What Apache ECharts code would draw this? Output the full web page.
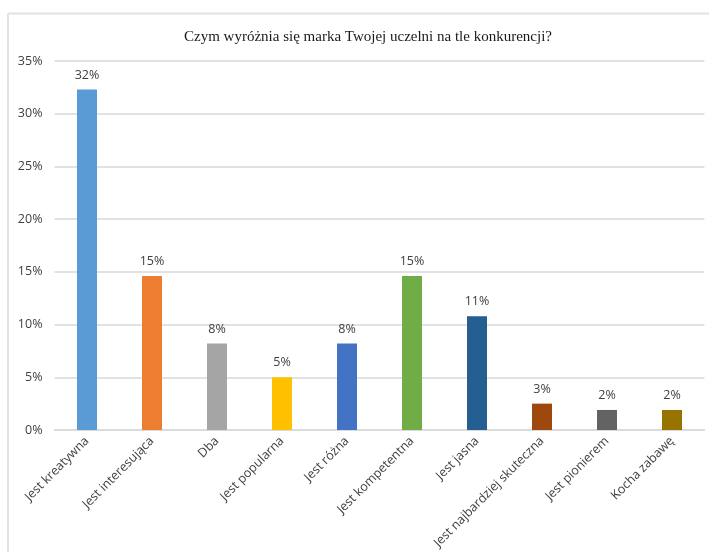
<!DOCTYPE html>
<html>
<head>
<meta charset="utf-8">
<script src="https://cdn.jsdelivr.net/npm/echarts@6/dist/echarts.min.js"></script>
<style>
  html, body { margin: 0; padding: 0; background: #ffffff; }
  #chart { width: 709px; height: 552px; }
</style>
</head>
<body>
<div id="chart"></div>
<script>
// Answers to the survey question, share of respondents in percent
const categories = [
  'Jest kreatywna', 'Jest interesująca', 'Dba', 'Jest popularna', 'Jest różna',
  'Jest kompetentna', 'Jest jasna', 'Jest najbardziej skuteczna', 'Jest pionierem', 'Kocha zabawę'
];
const shares = [32.3, 14.6, 8.2, 5.0, 8.2, 14.6, 10.8, 2.5, 1.9, 1.9];
const barColors = [
  '#5B9BD5', '#ED7D31', '#A5A5A5', '#FFC000', '#4472C4',
  '#70AD47', '#255E91', '#9E480E', '#636363', '#997300'
];
const titleText = 'Czym wyróżnia się marka Twojej uczelni na tle konkurencji?';

const chart = echarts.init(document.getElementById('chart'), null, { renderer: 'canvas' });
const labelFont = '"Open Sans", "Liberation Sans", sans-serif';

chart.setOption({
  animation: false,
  backgroundColor: '#ffffff',
  title: {
    text: titleText,
    left: 363,
    textAlign: 'center',
    top: 25,
    textStyle: { fontFamily: '"Liberation Serif", "DejaVu Serif", serif', fontSize: 15, fontWeight: 'normal', color: '#1a1a1a' }
  },
  graphic: [
    { type: 'line', shape: { x1: 8, y1: 13.5, x2: 709, y2: 13.5 }, style: { stroke: '#e2e2e2', lineWidth: 2 }, silent: true },
    { type: 'line', shape: { x1: 8, y1: 13.5, x2: 8, y2: 552 }, style: { stroke: '#e2e2e2', lineWidth: 2 }, silent: true }
  ],
  grid: { left: 54.5, right: 4.5, top: 61, bottom: 122, containLabel: false },
  xAxis: {
    type: 'category',
    data: categories,
    axisLine: { lineStyle: { color: '#d9d9d9', width: 1.5 } },
    axisTick: { show: false },
    axisLabel: { rotate: 45, interval: 0, margin: 9, color: '#404040', fontSize: 12.5, fontFamily: labelFont }
  },
  yAxis: {
    type: 'value',
    min: 0,
    max: 35,
    interval: 5,
    axisLine: { show: false },
    axisTick: { show: false },
    splitLine: { lineStyle: { color: '#d9d9d9', width: 1.5 } },
    axisLabel: { formatter: v => v + '%', margin: 12, color: '#404040', fontSize: 12.5, fontFamily: labelFont }
  },
  series: [{
    type: 'bar',
    barWidth: 20,
    data: shares.map((v, i) => ({ value: v, itemStyle: { color: barColors[i] } })),
    label: {
      show: true,
      position: 'top',
      distance: 8,
      formatter: p => Math.round(p.value) + '%',
      color: '#404040',
      fontSize: 12.5,
      fontFamily: labelFont
    }
  }]
});
</script>
</body>
</html>
